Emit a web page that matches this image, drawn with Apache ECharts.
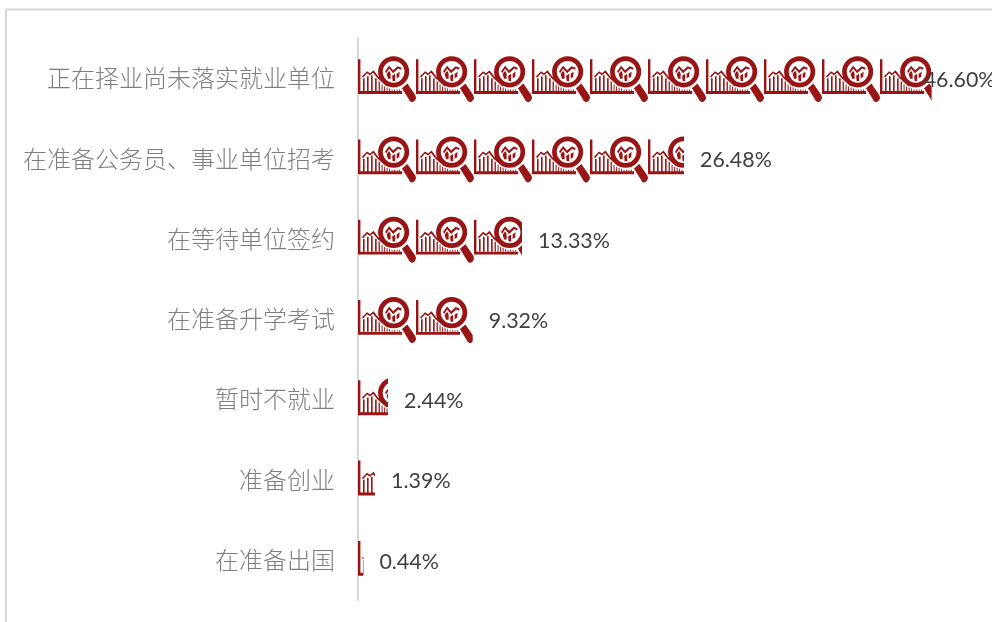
<!DOCTYPE html>
<html>
<head>
<meta charset="utf-8">
<style>html,body{margin:0;padding:0;background:#fff;overflow:hidden}#c{width:992px;height:622px}</style>
<script src="https://cdn.jsdelivr.net/npm/echarts@6/dist/echarts.min.js"></script>
</head>
<body>
<div id="c"></div>
<script>
const categories = ['正在择业尚未落实就业单位','在准备公务员、事业单位招考','在等待单位签约','在准备升学考试','暂时不就业','准备创业','在准备出国'];
const shares = [46.60, 26.48, 13.33, 9.32, 2.44, 1.39, 0.44];

function bar(x, top, w){ return 'M'+x+' '+top+'H'+(x+w)+'V34.5H'+x+'Z'; }
function ringPart(cx, cy, r, sweep){
  return 'M'+(cx-r)+' '+cy+'A'+r+' '+r+' 0 1 '+sweep+' '+(cx+r)+' '+cy+'A'+r+' '+r+' 0 1 '+sweep+' '+(cx-r)+' '+cy+'Z';
}
const iconPath = 'path://' + [
  'M0 3H2.4V34.6H44V37.5H0Z',
  bar(5,22,1.6), bar(9,20,1.6), bar(13,19,1.6), bar(17,22,1.6), bar(20.5,25,1.3), bar(23.5,28,1),
  bar(26,30,1), bar(28.5,31,1), bar(31,32,0.9), bar(33.5,33,0.9), bar(36,33,0.9), bar(38.5,33,0.9), bar(41,33,0.9),
  'M4 20L9 15L12 17L15.5 14L20 20L29 28L28 29.5L19.5 22L15 16.5L12 19L9 17L5 21.5Z',
  ringPart(35.5,15.5,15.5,1),
  ringPart(35.5,15.5,10.8,0),
  'M27 15L31 9.5L35 14L39.5 10L43.5 11.5L43 13.5L40 12.3L35 17L31 12.5L28 17Z',
  'M28.5 18L31 14.5L32.5 17V22.5H30Z',
  'M34 19.5L37 17.5V24.5L34.5 24.5Z',
  'M38.5 17.5L41.5 15.5L41 20.5L38.5 22Z',
  'M49.2 27.2L57 38.5Q58.6 41 57 43.5Q55 46.6 52.5 45Q51 44 50.5 42.5L43.8 31.8Z'
].join('');

const axisMax = 50, gridWidth = 615.5, iconWidth = 58, iconCount = 10;
const iconBound = iconCount * iconWidth / (gridWidth / axisMax);

const chart = echarts.init(document.getElementById('c'), null, {renderer:'canvas'});
chart.setOption({
  animation:false,
  backgroundColor:'#fff',
  graphic:[
    {type:'rect',shape:{x:5,y:9,width:2,height:613},style:{fill:'#d9d9d9'},silent:true},
    {type:'rect',shape:{x:5,y:8.5,width:987,height:2},style:{fill:'#d9d9d9'},silent:true}
  ],
  grid:{left:358,top:38,bottom:22,width:gridWidth},
  xAxis:{type:'value',min:0,max:axisMax,show:false},
  yAxis:{type:'category',inverse:true,data:categories,
    axisLine:{show:true,lineStyle:{color:'#d9d9d9',width:2}},
    axisTick:{show:false},
    axisLabel:{margin:23,fontSize:24,color:'#7f7f7f',fontWeight:300,fontFamily:'"Noto Sans CJK SC"',padding:[0,0,2,0]}
  },
  series:[
    {type:'pictorialBar',data:shares,
     symbol:iconPath,symbolSize:[iconWidth,46],symbolMargin:0,symbolRepeat:'fixed',
     symbolClip:true,symbolBoundingData:iconBound,symbolPosition:'start',symbolOffset:[0,1],
     itemStyle:{color:'#991515'},silent:true,z:3},
    {type:'bar',data:shares.map((v,i)=>i===0?{value:v,label:{offset:[-24,2]}}:v),barWidth:40,
     barGap:'-100%',itemStyle:{color:'transparent'},silent:true,z:4,
     label:{show:true,position:'right',distance:16,offset:[0,2],
       formatter:p=>p.value.toFixed(2)+'%',
       fontSize:21.4,color:'#404040',fontFamily:'Lato'}}
  ]
});
</script>
</body>
</html>
